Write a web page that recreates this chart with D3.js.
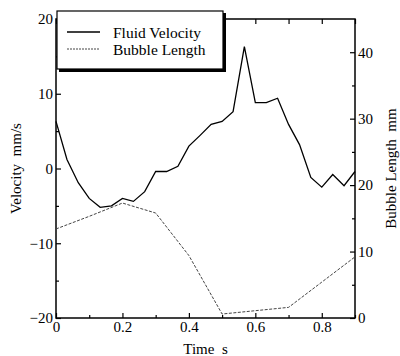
<!DOCTYPE html>
<html><head><meta charset="utf-8">
<script src="https://cdnjs.cloudflare.com/ajax/libs/d3/7.8.5/d3.min.js"></script>
<style>
body{margin:0;background:#fff}
svg{display:block}
text{font-family:"Liberation Serif","Times New Roman",serif;fill:#000}
</style>
</head><body>
<svg id="c" width="400" height="356"></svg>
<script>
// ---- data ----
const velTime = [0, 0.033, 0.067, 0.1, 0.133, 0.167, 0.2, 0.233, 0.267, 0.3, 0.333, 0.367, 0.4, 0.433,
                 0.467, 0.5, 0.533, 0.567, 0.6, 0.633, 0.667, 0.7, 0.733, 0.767, 0.8, 0.833, 0.867, 0.9];
const velocity = [6.3, 1.2, -1.9, -4.0, -5.2, -5.0, -4.0, -4.4, -3.1, -0.4, -0.4, 0.3, 3.0, 4.4,
                  5.9, 6.3, 7.6, 16.3, 8.8, 8.8, 9.4, 5.9, 3.2, -1.2, -2.5, -0.8, -2.3, -0.4];
const lenTime = [0, 0.1, 0.2, 0.3, 0.4, 0.5, 0.6, 0.7, 0.8, 0.9];
const bubbleLength = [13.4, 15.3, 17.3, 15.8, 9.4, 0.6, 1.1, 1.6, 5.4, 9.2];

const xTicks = [0, 0.2, 0.4, 0.6, 0.8];
const xMinor = [0.1, 0.3, 0.5, 0.7, 0.9];
const velTicks = [-20, -10, 0, 10, 20];
const velMinor = [-15, -5, 5, 15];
const lenTicks = [0, 10, 20, 30, 40];
const lenMinor = [5, 15, 25, 35];
const legendLabels = ["Fluid Velocity", "Bubble Length"];
const xTitle = "Time  s";
const yTitle = "Velocity  mm/s";
const y2Title = "Bubble Length  mm";

// ---- layout ----
const L = 56, R = 355, T = 19, B = 318;
const FONT = '"Liberation Serif","Times New Roman",serif';
const svg = d3.select("#c");
const x = d3.scaleLinear().domain([0, 0.9]).range([L, R]);
const yV = d3.scaleLinear().domain([-20, 20]).range([B, T]);
const yL = d3.scaleLinear().domain([0, 45]).range([B, T]);
const fs = 15;

function style(g){
  g.attr("font-family", FONT).attr("font-size", fs);
  g.select(".domain").remove();
  g.selectAll("line").attr("stroke","#000").attr("stroke-width",1.2);
  g.selectAll("text").style("font-family", FONT).style("font-size", fs+"px").attr("fill","#000");
}

// bottom axis
svg.append("g").attr("transform",`translate(0,${B})`)
  .call(d3.axisBottom(x).tickValues(xTicks).tickFormat(d=>d===0?"0":d3.format(".1f")(d)).tickSizeInner(-5).tickSizeOuter(0).tickPadding(3))
  .call(style);
svg.append("g").attr("transform",`translate(0,${B})`)
  .call(d3.axisBottom(x).tickValues(xMinor).tickFormat("").tickSizeInner(-3).tickSizeOuter(0))
  .call(style);
// top axis (ticks only)
svg.append("g").attr("transform",`translate(0,${T})`)
  .call(d3.axisTop(x).tickValues(xTicks.concat(xMinor)).tickFormat("").tickSizeInner(-5).tickSizeOuter(0))
  .call(style);
// left axis
svg.append("g").attr("transform",`translate(${L},0)`)
  .call(d3.axisLeft(yV).tickValues(velTicks).tickFormat(d3.format("d")).tickSizeInner(-5).tickSizeOuter(0).tickPadding(3))
  .call(style);
svg.append("g").attr("transform",`translate(${L},0)`)
  .call(d3.axisLeft(yV).tickValues(velMinor).tickFormat("").tickSizeInner(-3).tickSizeOuter(0))
  .call(style);
// right axis
svg.append("g").attr("transform",`translate(${R},0)`)
  .call(d3.axisRight(yL).tickValues(lenTicks).tickFormat(d3.format("d")).tickSizeInner(-5).tickSizeOuter(0).tickPadding(3))
  .call(style);
svg.append("g").attr("transform",`translate(${R},0)`)
  .call(d3.axisRight(yL).tickValues(lenMinor).tickFormat("").tickSizeInner(-3).tickSizeOuter(0))
  .call(style);

// frame
svg.append("rect").attr("x",L).attr("y",T).attr("width",R-L).attr("height",B-T)
  .attr("fill","none").attr("stroke","#000").attr("stroke-width",1.5);

// series
const lenLine = d3.line().x((d,i)=>x(lenTime[i])).y(d=>yL(d));
svg.append("path").datum(bubbleLength).attr("d",lenLine)
  .attr("fill","none").attr("stroke","#444").attr("stroke-width",1).attr("stroke-dasharray","3,1.5");
const velLine = d3.line().x((d,i)=>x(velTime[i])).y(d=>yV(d));
svg.append("path").datum(velocity).attr("d",velLine)
  .attr("fill","none").attr("stroke","#000").attr("stroke-width",1.3).attr("stroke-linejoin","miter");

// legend
const lg = svg.append("g");
lg.append("rect").attr("x",59).attr("y",13).attr("width",167).attr("height",59).attr("fill","#000");
lg.append("rect").attr("x",57).attr("y",11).attr("width",166).attr("height",58)
  .attr("fill","#fff").attr("stroke","#000").attr("stroke-width",1.2);
const legY = [32, 49];
legendLabels.forEach((lab,i)=>{
  lg.append("line").attr("x1",67).attr("x2",100).attr("y1",legY[i]).attr("y2",legY[i])
    .attr("stroke", i===0?"#000":"#444").attr("stroke-width", i===0?1.3:1)
    .attr("stroke-dasharray", i===0?null:"2,1");
  lg.append("text").attr("x",113).attr("y",legY[i]+5.5).style("font-family",FONT).style("font-size","15.5px").text(lab);
});

// titles
svg.append("text").attr("x",(L+R)/2).attr("y",354).attr("text-anchor","middle")
  .style("font-family",FONT).style("font-size",fs+"px").style("white-space","pre").text(xTitle);
svg.append("text").attr("transform",`translate(21,${(T+B)/2}) rotate(-90)`).attr("text-anchor","middle")
  .style("font-family",FONT).style("font-size",fs+"px").style("white-space","pre").text(yTitle);
svg.append("text").attr("transform",`translate(396,${(T+B)/2}) rotate(-90)`).attr("text-anchor","middle")
  .style("font-family",FONT).style("font-size",fs+"px").style("white-space","pre").text(y2Title);
</script>
</body></html>
